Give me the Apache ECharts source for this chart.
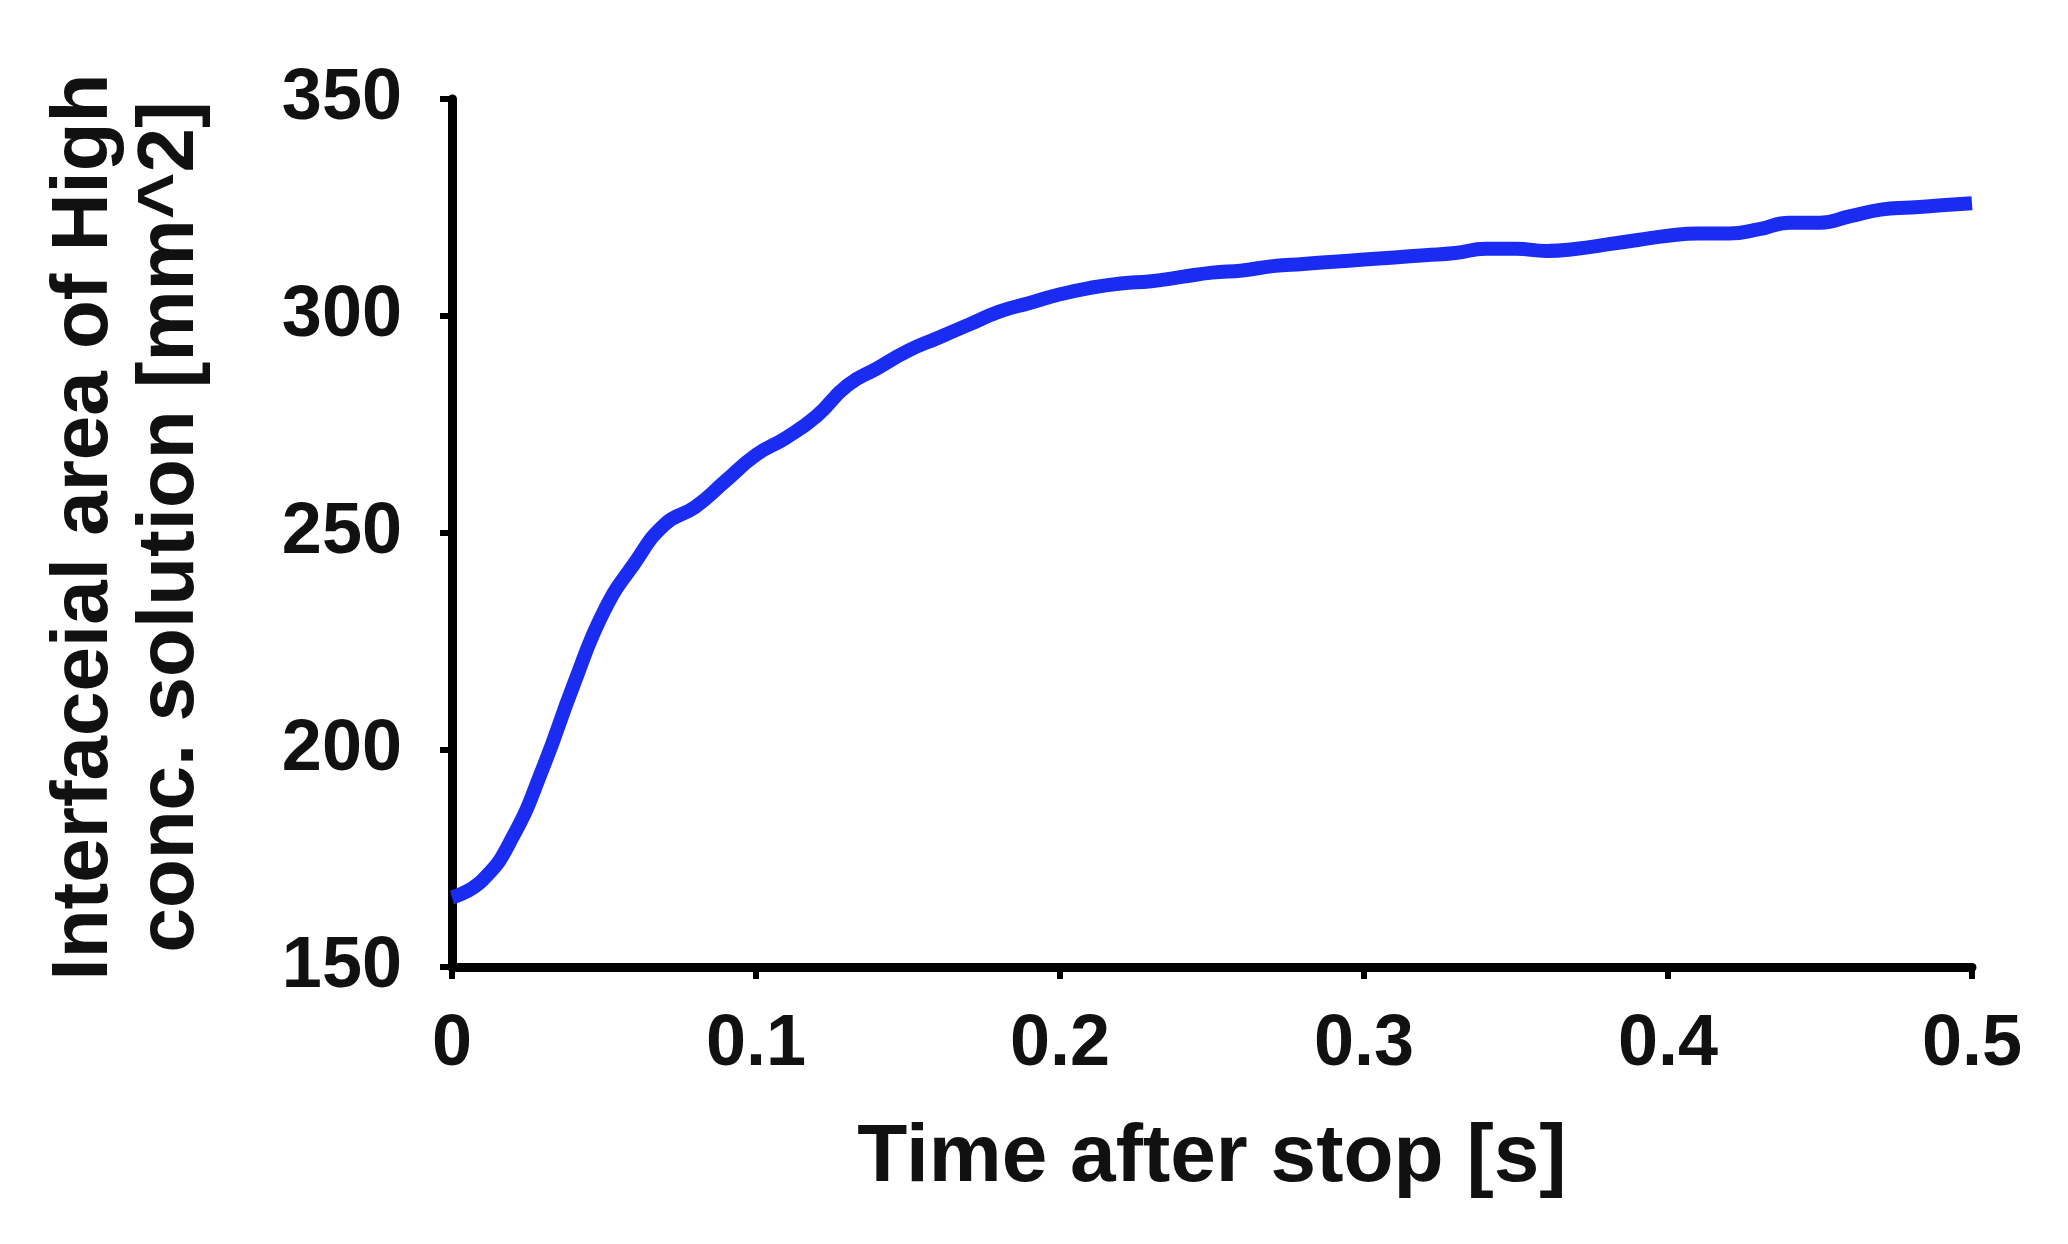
<!DOCTYPE html>
<html>
<head>
<meta charset="utf-8">
<script src="https://cdn.jsdelivr.net/npm/echarts@6/dist/echarts.min.js"></script>
<style>html,body{margin:0;background:#fff}#chart{width:2068px;height:1244px}</style>
</head>
<body>
<div id="chart"></div>
<script>
// time after stop [s] and interfacial area [mm^2]
const times = [0,0.01,0.02,0.03,0.04,0.05,0.06,0.07,0.08,0.09,0.1,0.11,0.12,0.13,0.14,0.15,0.16,0.17,0.18,0.19,0.2,
  0.21,0.22,0.23,0.24,0.25,0.26,0.27,0.28,0.29,0.3,0.31,0.32,0.33,0.34,0.35,0.36,0.37,0.38,0.39,0.4,
  0.41,0.42,0.43,0.44,0.45,0.46,0.47,0.48,0.49,0.5];
const areas = [166,170,180,196,215,232,243,252,256,262,268,272,277,284,288,292,295,298,301,303,305,
  306.5,307.5,308,309,310,310.5,311.5,312,312.5,313,313.5,314,314.5,315.5,315.5,315,315.5,316.5,317.5,318.5,
  319,319,320,321.5,321.5,323,324.5,325,325.5,326];
const xTitle = 'Time after stop [s]';
const yTitle = ['Interfaceial area of High', 'conc. solution [mm^2]'];

const font = 'Liberation Sans, Arial, sans-serif';
const chart = echarts.init(document.getElementById('chart'));
chart.setOption({
  backgroundColor: '#fff',
  animation: false,
  grid: { left: 452, right: 96, top: 99, bottom: 277 },
  xAxis: {
    type: 'value', min: 0, max: 0.5, interval: 0.1,
    axisLine: { lineStyle: { color: '#000', width: 9 } },
    axisTick: { show: true, length: 12, lineStyle: { color: '#000', width: 6 } },
    splitLine: { show: false },
    axisLabel: { color: '#111', fontSize: 72, fontWeight: 'bold', fontFamily: font, margin: 42,
      formatter: v => String(Math.round(v * 10) / 10) },
    name: xTitle, nameLocation: 'middle', nameGap: 150,
    nameTextStyle: { color: '#111', fontSize: 82, fontWeight: 'bold', fontFamily: font }
  },
  yAxis: {
    type: 'value', min: 150, max: 350, interval: 50,
    axisLine: { show: true, lineStyle: { color: '#000', width: 9 } },
    axisTick: { show: true, length: 12, lineStyle: { color: '#000', width: 6 } },
    splitLine: { show: false },
    axisLabel: { color: '#111', fontSize: 72, fontWeight: 'bold', fontFamily: font, margin: 50 }
  },
  graphic: [{
    type: 'text', x: 128, y: 527, rotation: Math.PI / 2,
    style: { text: yTitle.join('\n'), fill: '#111', font: 'bold 80px ' + font,
      textAlign: 'center', textVerticalAlign: 'middle', lineHeight: 86 }
  }],
  series: [{
    type: 'line', smooth: true, showSymbol: false,
    data: times.map((t, i) => [t, areas[i]]),
    lineStyle: { color: '#1a2cf2', width: 14 }
  }]
});
</script>
</body>
</html>
